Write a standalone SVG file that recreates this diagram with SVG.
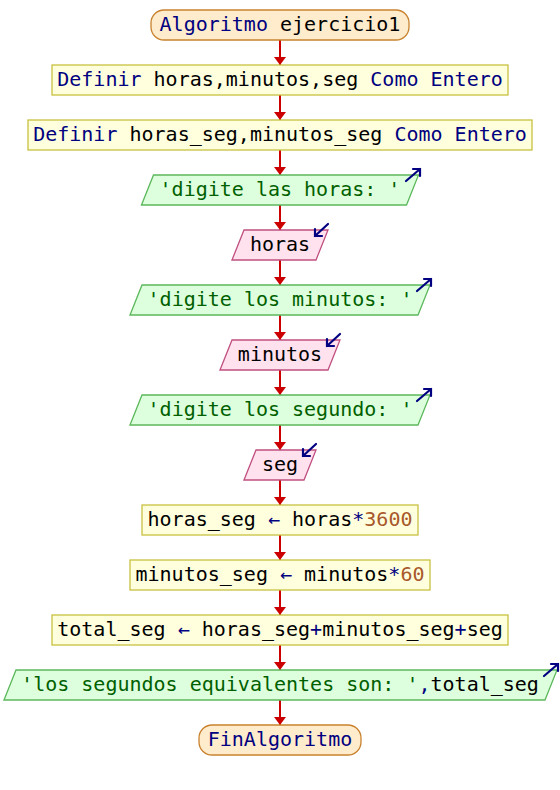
<svg xmlns="http://www.w3.org/2000/svg" width="560" height="790" viewBox="0 0 560 790">
  <style>
    text { font-family: "DejaVu Sans Mono", "Liberation Mono", monospace; font-size: 20px; fill: #000000; white-space: pre; }
    .kw { fill: #000080; }
    .op { fill: #000080; }
    .str { fill: #006000; }
    .num { fill: #a8582a; }
    .term { fill: #ffeccc; stroke: #c8822e; stroke-width: 1.3; }
    .proc { fill: #ffffdd; stroke: #c8c040; stroke-width: 1.3; }
    .out { fill: #ddffdd; stroke: #5cb85c; stroke-width: 1.3; }
    .in { fill: #ffe2ee; stroke: #c05080; stroke-width: 1.3; }
    .flow { stroke: #cc0000; stroke-width: 2; fill: none; }
    .io { stroke: #000080; stroke-width: 2.2; fill: none; stroke-linecap: round; }
  </style>
  <defs>
    <marker id="ah" viewBox="0 0 10 10" refX="10" refY="5" markerUnits="userSpaceOnUse" markerWidth="8" markerHeight="12" orient="auto" preserveAspectRatio="none">
      <path d="M0,0 L10,5 L0,10 z" fill="#cc0000"/>
    </marker>
    <!-- output marker: arrow leaving the top-right corner -->
    <path id="outIcon" class="io" d="M-13,6 L1,-6 M-6,-6 L1,-6 L1,1"/>
    <!-- input marker: arrow entering at the top-right corner -->
    <path id="inIcon" class="io" d="M0,-6 L-13,6 M-13,-1 L-13,6 L-6,6"/>
  </defs>

  <!-- connectors -->
  <g id="connectors">
    <line class="flow" x1="280" y1="40" x2="280" y2="65" marker-end="url(#ah)"/>
    <line class="flow" x1="280" y1="95" x2="280" y2="120" marker-end="url(#ah)"/>
    <line class="flow" x1="280" y1="150" x2="280" y2="175" marker-end="url(#ah)"/>
    <line class="flow" x1="280" y1="205" x2="280" y2="230" marker-end="url(#ah)"/>
    <line class="flow" x1="280" y1="260" x2="280" y2="285" marker-end="url(#ah)"/>
    <line class="flow" x1="280" y1="315" x2="280" y2="340" marker-end="url(#ah)"/>
    <line class="flow" x1="280" y1="370" x2="280" y2="395" marker-end="url(#ah)"/>
    <line class="flow" x1="280" y1="425" x2="280" y2="450" marker-end="url(#ah)"/>
    <line class="flow" x1="280" y1="480" x2="280" y2="505" marker-end="url(#ah)"/>
    <line class="flow" x1="280" y1="535" x2="280" y2="560" marker-end="url(#ah)"/>
    <line class="flow" x1="280" y1="590" x2="280" y2="615" marker-end="url(#ah)"/>
    <line class="flow" x1="280" y1="645" x2="280" y2="670" marker-end="url(#ah)"/>
    <line class="flow" x1="280" y1="700" x2="280" y2="725" marker-end="url(#ah)"/>
  </g>

  <g id="start">
    <rect class="term" x="151" y="10" width="258" height="30" rx="13" ry="13"/>
    <text x="280" y="31" text-anchor="middle"><tspan class="kw">Algoritmo</tspan> ejercicio1</text>
  </g>

  <g id="def1">
    <rect class="proc" x="52" y="65" width="456" height="30"/>
    <text x="280" y="86" text-anchor="middle"><tspan class="kw">Definir</tspan> horas,minutos,seg <tspan class="kw">Como Entero</tspan></text>
  </g>

  <g id="def2">
    <rect class="proc" x="28" y="120" width="504" height="30"/>
    <text x="280" y="141" text-anchor="middle"><tspan class="kw">Definir</tspan> horas_seg,minutos_seg <tspan class="kw">Como Entero</tspan></text>
  </g>

  <g id="out1">
    <polygon class="out" points="141.5,205 153.5,175 418.5,175 406.5,205"/>
    <text x="280" y="196" text-anchor="middle" class="str">'digite las horas: '</text>
    <use href="#outIcon" x="419" y="175"/>
  </g>

  <g id="in1">
    <polygon class="in" points="232,260 244,230 328,230 316,260"/>
    <text x="280" y="251" text-anchor="middle">horas</text>
    <use href="#inIcon" x="328" y="230"/>
  </g>

  <g id="out2">
    <polygon class="out" points="130,315 142,285 430,285 418,315"/>
    <text x="280" y="306" text-anchor="middle" class="str">'digite los minutos: '</text>
    <use href="#outIcon" x="430" y="285"/>
  </g>

  <g id="in2">
    <polygon class="in" points="220,370 232,340 340,340 328,370"/>
    <text x="280" y="361" text-anchor="middle">minutos</text>
    <use href="#inIcon" x="340" y="340"/>
  </g>

  <g id="out3">
    <polygon class="out" points="130,425 142,395 430,395 418,425"/>
    <text x="280" y="416" text-anchor="middle" class="str">'digite los segundo: '</text>
    <use href="#outIcon" x="430" y="395"/>
  </g>

  <g id="in3">
    <polygon class="in" points="244,480 256,450 316,450 304,480"/>
    <text x="280" y="471" text-anchor="middle">seg</text>
    <use href="#inIcon" x="316" y="450"/>
  </g>

  <g id="assign1">
    <rect class="proc" x="142" y="505" width="276" height="30"/>
    <text x="280" y="526" text-anchor="middle">horas_seg <tspan class="op">←</tspan> horas<tspan class="op">*</tspan><tspan class="num">3600</tspan></text>
  </g>

  <g id="assign2">
    <rect class="proc" x="130" y="560" width="300" height="30"/>
    <text x="280" y="581" text-anchor="middle">minutos_seg <tspan class="op">←</tspan> minutos<tspan class="op">*</tspan><tspan class="num">60</tspan></text>
  </g>

  <g id="assign3">
    <rect class="proc" x="52" y="615" width="456" height="30"/>
    <text x="280" y="636" text-anchor="middle">total_seg <tspan class="op">←</tspan> horas_seg<tspan class="op">+</tspan>minutos_seg<tspan class="op">+</tspan>seg</text>
  </g>

  <g id="out4">
    <polygon class="out" points="4,700 16,670 557,670 545,700"/>
    <text x="280" y="691" text-anchor="middle"><tspan class="str">'los segundos equivalentes son: '</tspan><tspan class="op">,</tspan>total_seg</text>
    <use href="#outIcon" x="557" y="670"/>
  </g>

  <g id="end">
    <rect class="term" x="199" y="725" width="162" height="30" rx="13" ry="13"/>
    <text x="280" y="746" text-anchor="middle" class="kw">FinAlgoritmo</text>
  </g>
</svg>
